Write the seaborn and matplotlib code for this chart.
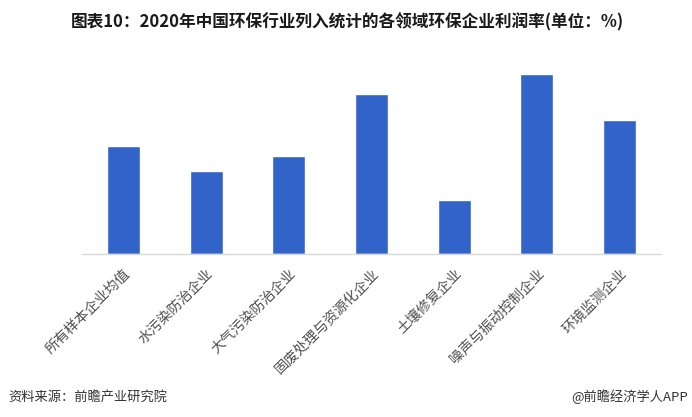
import matplotlib
matplotlib.use("Agg")
import matplotlib.pyplot as plt
import seaborn as sns
import pandas as pd

categories = ["所有样本企业均值", "水污染防治企业", "大气污染防治企业", "固废处理与资源化企业",
              "土壤修复企业", "噪声与振动控制企业", "环境监测企业"]
values = [10.8, 8.3, 9.8, 16.0, 5.4, 18.0, 13.4]

title = "图表10：2020年中国环保行业列入统计的各领域环保企业利润率(单位：%)"
source = "资料来源：前瞻产业研究院"
credit = "@前瞻经济学人APP"

sns.set_theme(style="white")
plt.rcParams['font.family'] = ['Noto Sans CJK SC', 'DejaVu Sans']

df = pd.DataFrame({"cat": categories, "val": values})

fig = plt.figure(figsize=(6.92, 4.17), dpi=100)
ax = fig.add_axes([82/692, (417-254)/417, (661-82)/692, (254-54)/417])
sns.barplot(data=df, x="cat", y="val", color="#3263C8", width=0.4, saturation=1, ax=ax)
ax.set_xlim(-0.5, 6.5)
ax.set_ylim(0, 20)
ax.set_xlabel("")
ax.set_ylabel("")
ax.set_yticks([])
for s in ["top", "right", "left"]:
    ax.spines[s].set_visible(False)
ax.spines["bottom"].set_color("#d9d9d9")
ax.spines["bottom"].set_linewidth(1)
ax.tick_params(axis="x", length=0, pad=9)
for lab in ax.get_xticklabels():
    lab.set_rotation(45)
    lab.set_ha("right")
    lab.set_rotation_mode("anchor")
    lab.set_fontsize(10.2)
    lab.set_color("#505050")

fig.text(347/692, 1 - 22/417, title, ha="center", va="center", fontsize=12,
         fontweight="bold", color="#1a1a1a")
fig.text(8/692, 1 - 397/417, source, ha="left", va="center", fontsize=9.5, color="#333333")
fig.text(688/692, 1 - 397/417, credit, ha="right", va="center", fontsize=9.5, color="#333333")

fig.savefig("out.png", dpi=100)
